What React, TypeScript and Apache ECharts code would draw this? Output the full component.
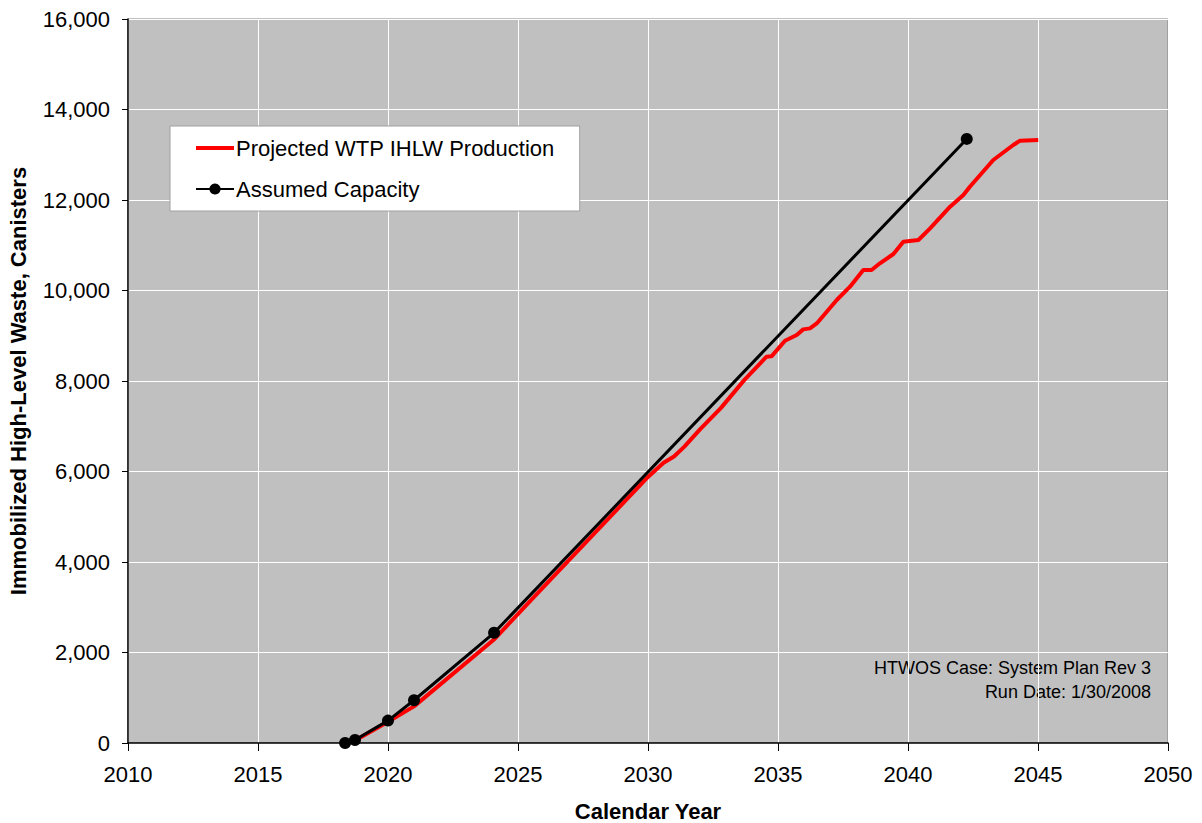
import React, { useEffect, useRef } from "react";
import * as echarts from "echarts";

const xTicks = [2010, 2015, 2020, 2025, 2030, 2035, 2040, 2045, 2050];
const yTicks = [0, 2000, 4000, 6000, 8000, 10000, 12000, 14000, 16000];

const capacityYears = [2018.35, 2018.73, 2020.0, 2021.0, 2024.08, 2042.26];
const capacityValues = [0, 66, 495, 945, 2435, 13350];

const productionYears = [
  2018.4, 2018.75, 2020.0, 2021.0, 2024.1, 2025.5, 2030.0, 2030.6, 2031.0, 2031.4,
  2032.0, 2032.8, 2033.7, 2034.56, 2034.75, 2035.27, 2035.72, 2035.97, 2036.23,
  2036.49, 2037.26, 2037.77, 2038.28, 2038.6, 2038.92, 2039.44, 2039.82, 2040.4,
  2040.85, 2041.62, 2042.13, 2042.38, 2043.28, 2044.05, 2044.31, 2045.01,
];
const productionValues = [
  0, 60, 470, 810, 2300, 3160, 5880, 6195, 6330, 6550,
  6930, 7400, 8020, 8537, 8545, 8891, 9017, 9141, 9163,
  9271, 9790, 10084, 10453, 10453, 10601, 10807, 11079, 11116,
  11374, 11852, 12110, 12294, 12884, 13215, 13311, 13326,
];

const seriesNames = ["Projected WTP IHLW Production", "Assumed Capacity"];
const noteLines = ["HTWOS Case: System Plan Rev 3", "Run Date: 1/30/2008"];

export default function App() {
  const ref = useRef<HTMLDivElement>(null);
  useEffect(() => {
    if (!ref.current) return;
    const chart = echarts.init(ref.current, null, { renderer: "svg" });
    const font = "Arial, 'Liberation Sans', sans-serif";
    chart.setOption({
      animation: false,
      backgroundColor: "#ffffff",
      textStyle: { fontFamily: font },
      grid: {
        left: 128,
        right: 34,
        top: 19,
        bottom: 80,
        containLabel: false,
        outerBoundsMode: "none",
        show: true,
        backgroundColor: "#C0C0C0",
        borderColor: "#808080",
        borderWidth: 1,
      },
      legend: {
        orient: "vertical",
        left: 170,
        top: 126,
        padding: [11, 25, 11, 25],
        itemGap: 19,
        itemWidth: 38,
        itemHeight: 14,
        backgroundColor: "#ffffff",
        borderColor: "#a0a0a0",
        borderWidth: 1,
        textStyle: { fontSize: 22, color: "#000", fontFamily: font, padding: [0, 0, 0, -3] },
        data: [
          { name: seriesNames[0], icon: "path://M0,0H38V4H0Z", itemStyle: { color: "#FF0000" } },
          { name: seriesNames[1] },
        ],
      },
      xAxis: {
        type: "value",
        min: 2010,
        max: 2050,
        interval: 5,
        name: "Calendar Year",
        nameLocation: "middle",
        nameGap: 57,
        nameTextStyle: { fontSize: 22, fontWeight: "bold", color: "#000", fontFamily: font },
        axisLine: { show: true, onZero: false, lineStyle: { color: "#000", width: 1.5 } },
        axisTick: { show: true, inside: false, length: 8, lineStyle: { color: "#000" } },
        axisLabel: {
          fontSize: 22,
          color: "#000",
          margin: 20,
          formatter: (v: number) => String(v),
        },
        splitLine: { show: true, lineStyle: { color: "#ffffff", width: 1 } },
      },
      yAxis: {
        type: "value",
        min: 0,
        max: 16000,
        interval: 2000,
        name: "Immobilized High-Level Waste, Canisters",
        nameLocation: "middle",
        nameGap: 99,
        nameTextStyle: { fontSize: 22, fontWeight: "bold", color: "#000", fontFamily: font },
        axisLine: { show: true, lineStyle: { color: "#000", width: 1.5 } },
        axisTick: { show: true, inside: false, length: 6, lineStyle: { color: "#000" } },
        axisLabel: {
          fontSize: 22,
          color: "#000",
          margin: 18,
          formatter: (v: number) => v.toLocaleString("en-US"),
        },
        splitLine: { show: true, lineStyle: { color: "#ffffff", width: 1 } },
      },
      series: [
        {
          name: seriesNames[0],
          type: "line",
          data: productionYears.map((x, i) => [x, productionValues[i]]),
          showSymbol: false,
          symbol: "none",
          lineStyle: { color: "#FF0000", width: 4 },
          itemStyle: { color: "#FF0000" },
          z: 2,
        },
        {
          name: seriesNames[1],
          type: "line",
          data: capacityYears.map((x, i) => [x, capacityValues[i]]),
          symbol: "circle",
          symbolSize: 12,
          lineStyle: { color: "#000000", width: 3 },
          itemStyle: { color: "#000000" },
          z: 3,
        },
      ],
      graphic: [
        {
          type: "text",
          x: 1151,
          y: 668,
          style: {
            text: noteLines[0],
            fill: "#000",
            font: `18px ${font}`,
            textAlign: "right",
            textVerticalAlign: "middle",
            align: "right",
            verticalAlign: "middle",
          },
        },
        {
          type: "text",
          x: 1151,
          y: 692,
          style: {
            text: noteLines[1],
            fill: "#000",
            font: `18px ${font}`,
            textAlign: "right",
            textVerticalAlign: "middle",
            align: "right",
            verticalAlign: "middle",
          },
        },
      ],
    });
    return () => chart.dispose();
  }, []);
  return <div ref={ref} style={{ width: 1202, height: 823, position: "absolute", left: 0, top: 0 }} />;
}
